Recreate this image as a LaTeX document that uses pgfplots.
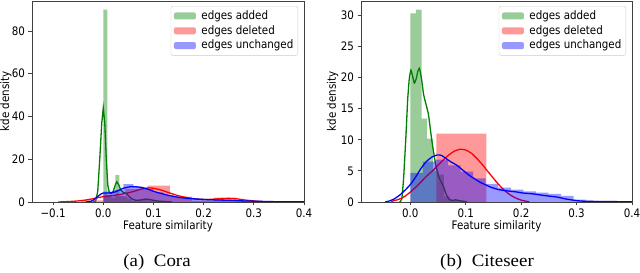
\documentclass[border=0pt]{standalone}
\usepackage{pgfplots}
\pgfplotsset{compat=1.18}
\usepackage{fontspec}
\setmainfont{DejaVu Sans}[FakeStretch=0.88]
\newfontfamily\capfont[FakeStretch=1.08]{Liberation Serif}
\definecolor{mplg}{rgb}{0,0.5,0}
\definecolor{mplr}{rgb}{1,0,0}
\definecolor{mplb}{rgb}{0,0,1}
\pgfplotsset{
  kdeax/.style={
    scale only axis, anchor=south west,
    height=201pt, ymin=0,
    axis on top,
    axis line style={draw=black!75, line width=0.8pt},
    tick style={draw=black!75, line width=0.8pt},
    tick align=outside, major tick length=3.5pt, tick pos=left,
    minor tick num=0,
    /pgf/number format/assume math mode=true,
    ticklabel style={font=\fontsize{11.7}{13}\selectfont},
    label style={font=\fontsize{11.7}{13}\selectfont},
    xlabel={Feature similarity},
    xlabel style={at={(axis description cs:0.5,-0.12)}, anchor=center},
    ylabel={kde density},
    legend style={at={(axis description cs:0.978,0.975)}, anchor=north east,
      draw=black!20, fill=white, fill opacity=0.8, text opacity=1,
      rounded corners=2pt, font=\fontsize{11.7}{13}\selectfont,
      inner xsep=3pt, inner ysep=2.5pt, row sep=0.3pt,
      nodes={inner sep=1.5pt, text height=9pt, text depth=2.5pt}},
    legend cell align=left,
    legend image code/.code={\fill[##1] (0pt,-3.5pt) rectangle (22pt,3.5pt); \path (26pt,0pt);},
  },
  hist/.style={const plot mark left, draw=none, fill=#1, fill opacity=0.4},
  kde/.style={draw=#1, line width=1.3pt, forget plot},
}
\begin{document}
\begin{tikzpicture}[x=1pt,y=1pt]
\useasboundingbox (0,0) rectangle (640,273);
% ---------------- Cora ----------------
\begin{axis}[kdeax, at={(32pt,71pt)}, width=272pt,
  xmin=-0.142, xmax=0.4, ymax=94,
  xtick={-0.1,0,0.1,0.2,0.3,0.4}, xticklabels={−0.1,0.0,0.1,0.2,0.3,0.4},
  ytick={0,20,40,60,80}, yticklabels={0,20,40,60,80},
  ylabel style={at={(axis description cs:-0.096,0.5)}, anchor=center}]
\addplot[hist=mplg] coordinates {(0,90) (0.008,3) (0.016,2) (0.024,12.6) (0.032,3) (0.04,2.5) (0.048,1.5) (0.056,0.5) (0.064,0.5) (0.072,1) (0.08,1.5) (0.088,1) (0.096,0.5) (0.104,0.3) (0.112,0.3) (0.12,0.3) (0.128,0.3) (0.136,0.3)} \closedcycle;
\addlegendentry{edges added}
\addplot[kde=mplg] coordinates {(-0.02,0) (-0.015,0.5) (-0.011,5) (-0.007,20) (-0.003,37) (0,44) (0.003,37) (0.006,20) (0.009,8) (0.012,4.5) (0.016,4) (0.02,5) (0.024,8) (0.027,9.5) (0.031,8) (0.035,5.5) (0.04,4.5) (0.046,4) (0.053,2.2) (0.058,1.4) (0.063,0.9) (0.07,0.8) (0.078,1.1) (0.086,1.4) (0.094,1.1) (0.1,0.8) (0.11,0.4) (0.12,0.3) (0.13,0.1) (0.137,0)};
\addplot[hist=mplr] coordinates {(-0.0443,0.8) (0,3) (0.0443,6) (0.0886,7.6) (0.1329,2.5) (0.1772,0.5) (0.2215,2) (0.2658,0.5) (0.3101,0.5)} \closedcycle;
\addlegendentry{edges deleted}
\addplot[kde=mplr, smooth, tension=0.4] coordinates {(-0.09,0) (-0.07,0.2) (-0.05,0.5) (-0.03,1.1) (-0.015,1.8) (0,2.5) (0.02,3.1) (0.04,3.8) (0.06,4.9) (0.075,6.0) (0.09,6.6) (0.1,6.4) (0.115,5.6) (0.13,4.4) (0.15,2.9) (0.17,1.9) (0.19,1.3) (0.21,1.2) (0.23,1.5) (0.25,1.7) (0.265,1.5) (0.28,1.0) (0.3,0.5) (0.315,0.2) (0.33,0)};
\addplot[hist=mplb] coordinates {(0,4.8) (0.02,5.5) (0.04,8.4) (0.06,7.2) (0.08,6.0) (0.1,4.5) (0.12,3.2) (0.14,2.4) (0.16,1.8) (0.18,1.4) (0.2,1.1) (0.22,0.9) (0.24,0.8) (0.26,0.6) (0.28,0.5) (0.3,0.4) (0.32,0.3) (0.34,0.2) (0.36,0.15) (0.38,0.1) (0.4,0.1)} \closedcycle;
\addlegendentry{edges unchanged}
\addplot[kde=mplb, smooth, tension=0.4] coordinates {(-0.035,0) (-0.025,0.3) (-0.018,1.2) (-0.01,2.8) (-0.004,3.8) (0,4.2) (0.01,4.2) (0.02,4.4) (0.03,5.4) (0.04,6.4) (0.05,7.0) (0.06,7.2) (0.07,7.0) (0.08,6.6) (0.09,5.9) (0.1,5.0) (0.11,4.3) (0.12,3.7) (0.13,3.1) (0.14,2.6) (0.15,2.2) (0.16,1.9) (0.18,1.5) (0.2,1.2) (0.22,1.0) (0.25,0.8) (0.28,0.5) (0.3,0.4) (0.33,0.2) (0.36,0.1) (0.4,0.05)};
\end{axis}
% ---------------- Citeseer ----------------
\begin{axis}[kdeax, at={(361pt,71pt)}, width=271pt,
  xmin=-0.089, xmax=0.4, ymax=32.3,
  xtick={0,0.1,0.2,0.3,0.4}, xticklabels={0.0,0.1,0.2,0.3,0.4},
  ytick={0,5,10,15,20,25,30}, yticklabels={0,5,10,15,20,25,30},
  ylabel style={at={(axis description cs:-0.105,0.5)}, anchor=center}]
\addplot[hist=mplg] coordinates {(0,30.3) (0.0101,30.9) (0.0202,13.4) (0.0304,10.2) (0.0405,5.0) (0.0506,4.4) (0.0607,0.9) (0.0709,0.3) (0.081,0.3) (0.0911,0.2) (0.1012,0.2)} \closedcycle;
\addlegendentry{edges added}
\addplot[kde=mplg, smooth, tension=0.3] coordinates {(-0.0193,0) (-0.0154,0.5) (-0.012,4) (-0.0077,11) (-0.0048,16.4) (-0.0019,19.8) (0.001,21.2) (0.0039,20.3) (0.0072,19.1) (0.0106,19.8) (0.0135,21.0) (0.0164,21.5) (0.0202,19.8) (0.0241,17.2) (0.0289,15.5) (0.0328,14) (0.0386,10) (0.0453,6.2) (0.0511,4.1) (0.0559,3.2) (0.0598,2.5) (0.0636,1.5) (0.0665,0.9) (0.0704,0.4) (0.0752,0.25) (0.0819,0.35) (0.0868,0.25) (0.0964,0.1) (0.1022,0)};
\addplot[hist=mplr] coordinates {(0.0472,11.0) (0.0922,11.0) (0.1373,11.0)} \closedcycle;
\addlegendentry{edges deleted}
\addplot[kde=mplr, smooth, tension=0.4] coordinates {(-0.035,0.05) (-0.03,0.2) (-0.02,0.45) (-0.01,0.9) (0,1.6) (0.01,2.4) (0.02,3.3) (0.03,4.2) (0.04,5.0) (0.05,5.9) (0.06,6.8) (0.07,7.6) (0.08,8.2) (0.09,8.47) (0.1,8.35) (0.11,7.85) (0.12,7.0) (0.13,6.0) (0.14,4.9) (0.15,3.8) (0.16,2.75) (0.17,1.85) (0.18,1.15) (0.19,0.65) (0.2,0.3) (0.21,0.1) (0.215,0)};
\addplot[hist=mplb] coordinates {(0,4.7) (0.0227,6.5) (0.0453,6.8) (0.068,5.9) (0.0906,4.9) (0.1133,3.8) (0.1359,2.9) (0.1586,2.3) (0.1812,2.0) (0.2039,1.7) (0.2265,1.5) (0.2492,1.3) (0.2718,1.0) (0.2945,0.4) (0.3171,0.2) (0.3398,0.15) (0.3624,0.1) (0.3851,0.08) (0.4077,0.08)} \closedcycle;
\addlegendentry{edges unchanged}
\addplot[kde=mplb, smooth, tension=0.4] coordinates {(-0.0453,0) (-0.0386,0.15) (-0.0289,0.5) (-0.0193,1.1) (-0.0096,1.9) (0,2.8) (0.0096,4.0) (0.0193,5.4) (0.0289,6.5) (0.0386,7.2) (0.0482,7.55) (0.0559,7.5) (0.0627,7.1) (0.0723,6.5) (0.0839,5.9) (0.0964,5.0) (0.106,4.3) (0.1138,3.85) (0.1253,3.2) (0.135,2.8) (0.1446,2.4) (0.159,2.0) (0.1735,1.8) (0.1928,1.6) (0.2024,1.45) (0.2217,1.3) (0.241,1.05) (0.2641,0.8) (0.2796,0.5) (0.294,0.3) (0.3085,0.15) (0.3278,0.1) (0.347,0.07) (0.3856,0.05) (0.4,0.04)};
\end{axis}
\node[font=\capfont\fontsize{17.5}{20}\selectfont, anchor=base] at (157,6.5) {(a)\hspace{0.55em}Cora};
\node[font=\capfont\fontsize{17.5}{20}\selectfont, anchor=base] at (487,6.5) {(b)\hspace{0.55em}Citeseer};
\end{tikzpicture}
\end{document}
